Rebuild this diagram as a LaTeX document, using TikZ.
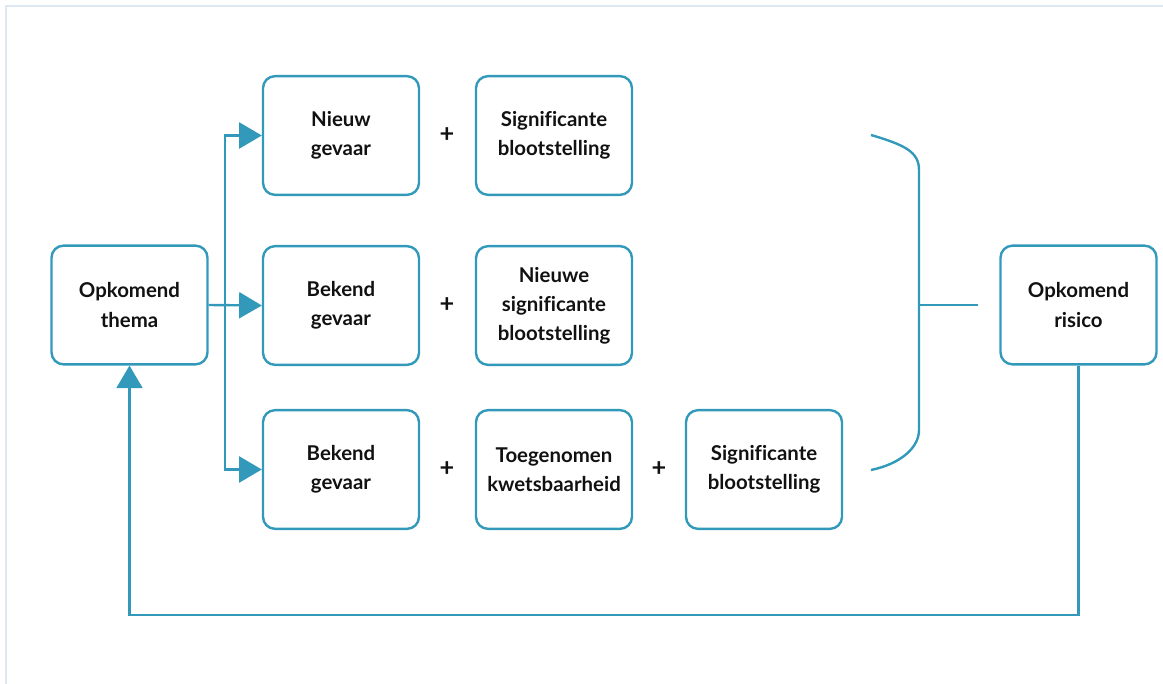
\documentclass[tikz,border=0pt]{standalone}
\usepackage{fontspec}
\setmainfont{Lato}[Ligatures=NoCommon]
\usetikzlibrary{arrows.meta}
\definecolor{ln}{HTML}{3399BB}
\definecolor{fr}{HTML}{DDE8F2}
\definecolor{tx}{HTML}{111111}
\tikzset{
  box/.style={draw=ln, line width=1.8pt, rounded corners=9pt, minimum width=117pt, minimum height=89pt, align=center, inner sep=0pt, text=tx, font=\fontsize{15.3}{21.8}\selectfont\bfseries},
  conn/.style={draw=ln, line width=1.8pt},
  arr/.style={conn, -{Triangle[length=17pt, width=19.5pt]}},
  plus/.style={text=tx, font=\fontsize{19}{20}\selectfont\bfseries, inner sep=0pt}
}
\begin{document}
\begin{tikzpicture}[x=0.75pt, y=-0.75pt]
\useasboundingbox (0,0) rectangle (1163,684);
\draw[fr, line width=1.2pt] (6,690) -- (6,6) -- (1170,6);
\node[box] (thema) at (129.5,305) {Opkomend\\thema};
\node[box] (n1) at (341,135.5) {Nieuw\\gevaar};
\node[box] (s1) at (554,135.5) {Significante\\blootstelling};
\node[box] (b2) at (341,305.5) {Bekend\\gevaar};
\node[box] (s2) at (554,305.5) {Nieuwe\\significante\\blootstelling};
\node[box] (b3) at (341,469.5) {Bekend\\gevaar};
\node[box] (t3) at (554,469.5) {Toegenomen\\kwetsbaarheid};
\node[box] (s3) at (764,469.5) {Significante\\blootstelling};
\node[box] (risico) at (1078.5,305) {Opkomend\\risico};
\node[plus] (p1) at (447,135) {+};
\node[plus] (p2) at (447,305) {+};
\node[plus] (p3) at (447,469) {+};
\node[plus] (p4) at (659,469) {+};
\coordinate (tr) at (225,0);
\coordinate (fb) at (0,615);
\draw[conn, {Triangle[length=17pt, width=19.5pt]}-{Triangle[length=17pt, width=19.5pt]}] (n1.west) -- (tr |- n1.west) -- (tr |- b3.west) -- (b3.west);
\draw[arr] (thema.east) -- (b2.west);
\draw[arr] (risico.south) -- (risico.south |- fb) -- (thema.south |- fb) -- (thema.south);
\coordinate (bt) at (871,135);
\coordinate (bb) at (871,470);
\coordinate (bm) at (919,305);
\coordinate (bo) at (978,305);
\draw[conn] (bt) .. controls (905,145) and (919,152) .. (919,170) -- (919,430) .. controls (919,448) and (900,464) .. (bb);
\draw[conn] (bm) -- (bo);
\end{tikzpicture}
\end{document}
